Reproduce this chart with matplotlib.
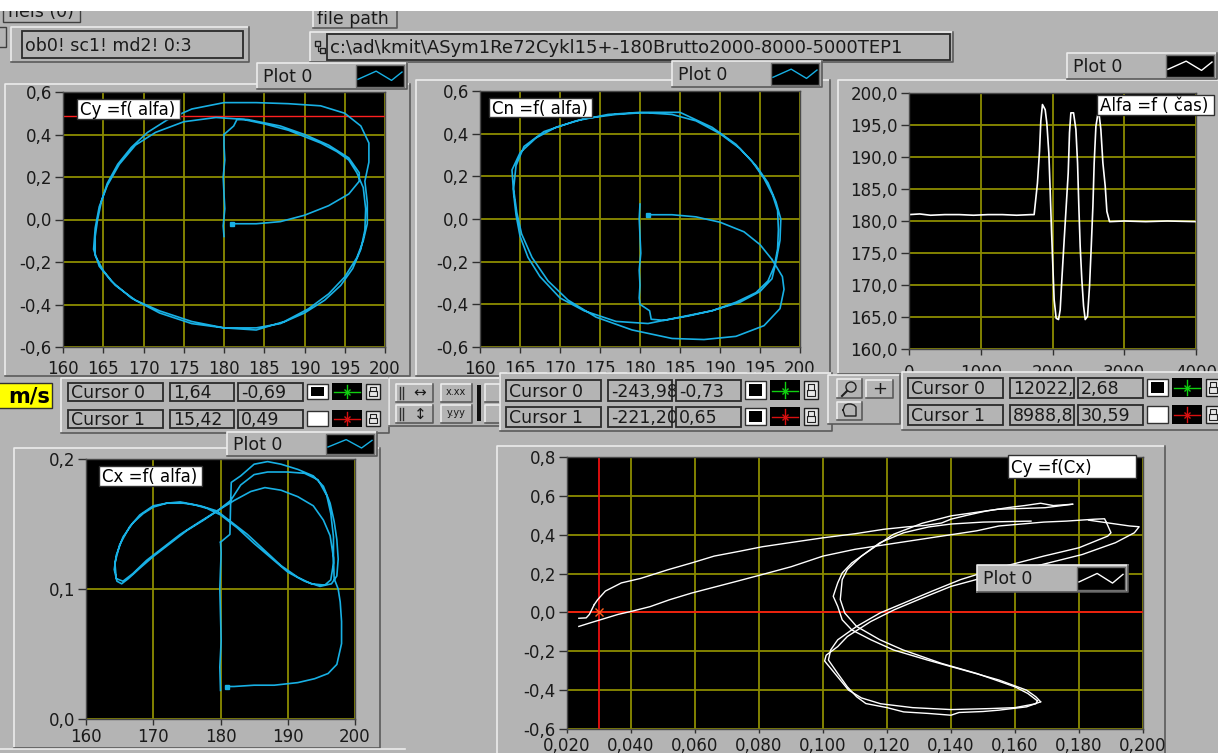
import matplotlib
matplotlib.use("Agg")
import matplotlib.pyplot as plt
from matplotlib.patches import Rectangle, Circle

# ---------------- values ----------------
alfa_ticks = [160, 165, 170, 175, 180, 185, 190, 195, 200]
coef_ticks = [-0.6, -0.4, -0.2, 0.0, 0.2, 0.4, 0.6]
time_ticks = [0, 1000, 2000, 3000, 4000]
alfa_deg_ticks = [160, 165, 170, 175, 180, 185, 190, 195, 200]
cx_alfa_xticks = [160, 170, 180, 190, 200]
cx_ticks = [0.0, 0.1, 0.2]
cx_axis_ticks = [0.02, 0.04, 0.06, 0.08, 0.10, 0.12, 0.14, 0.16, 0.18, 0.20]
cy_axis_ticks = [-0.6, -0.4, -0.2, 0.0, 0.2, 0.4, 0.6, 0.8]

# Cy = f(alfa)
cy_static_alfa = [180.0, 179.9, 180.1, 180.0, 179.9, 180.1, 180.0, 180.0]
cy_static_val = [-0.08, -0.03, 0.05, 0.12, 0.20, 0.28, 0.35, 0.40]
cy_loop_alfa = [180.0, 181.2, 181.6, 182.5, 185.0, 188.0, 190.0, 192.0, 194.0, 195.5,
                196.5, 197.3, 197.6, 197.5, 197.0, 196.0, 194.5, 192.5, 190.0, 187.0,
                184.0, 180.0, 176.0, 172.0, 169.0, 166.5, 165.0, 164.0, 164.0, 164.3,
                164.8, 165.5, 166.8, 168.5, 170.5, 173.0, 176.0, 180.0, 184.0, 188.0,
                192.0, 195.0, 197.0, 198.0, 198.0, 197.5, 197.8, 197.8, 197.3, 196.5,
                195.0, 193.0, 190.5, 187.5, 184.0, 180.0, 176.0, 172.0, 168.5, 166.0,
                164.5, 163.8, 164.0, 164.5, 165.5, 167.0, 169.0, 171.5, 175.0, 179.0,
                183.0, 187.0, 190.0, 193.0, 195.5, 196.8, 196.8]
cy_loop_val = [0.40, 0.44, 0.47, 0.47, 0.45, 0.42, 0.39, 0.36, 0.32, 0.28,
               0.22, 0.15, 0.05, -0.05, -0.14, -0.23, -0.31, -0.38, -0.44, -0.49,
               -0.51, -0.51, -0.48, -0.43, -0.38, -0.31, -0.24, -0.17, -0.08, 0.00,
               0.09, 0.17, 0.26, 0.34, 0.41, 0.47, 0.52, 0.55, 0.55, 0.545,
               0.535, 0.50, 0.44, 0.36, 0.27, 0.18, 0.08, -0.02, -0.10, -0.18,
               -0.27, -0.35, -0.42, -0.48, -0.52, -0.51, -0.49, -0.44, -0.37, -0.29,
               -0.22, -0.14, -0.04, 0.06, 0.16, 0.26, 0.35, 0.41, 0.46, 0.48,
               0.47, 0.44, 0.40, 0.35, 0.29, 0.22, 0.18]
cy_tail_alfa = [196.8, 195.5, 193.0, 190.0, 187.0, 184.0, 181.0]
cy_tail_val = [0.18, 0.12, 0.065, 0.02, -0.01, -0.02, -0.02]
cy_cursor_level = 0.485

# Cn = f(alfa)
cn_static_alfa = [180.0, 179.9, 180.0, 180.1, 179.9, 180.0, 179.9, 180.0]
cn_static_val = [0.07, 0.0, -0.08, -0.16, -0.24, -0.31, -0.37, -0.40]
cn_loop_alfa = [180.0, 181.2, 181.4, 183.0, 186.0, 189.0, 192.0, 194.5, 196.0, 196.8,
                197.2, 197.3, 197.2, 196.6, 195.5, 194.0, 192.0, 189.0, 185.0, 181.0,
                177.0, 173.0, 169.5, 167.0, 165.0, 164.0, 164.2, 164.5, 165.0, 166.0,
                167.5, 170.0, 173.0, 177.0, 181.0, 185.0, 189.0, 192.5, 195.0, 196.5,
                197.0, 197.5, 197.6, 197.0, 196.0, 194.5, 192.5, 190.0, 187.0, 184.0,
                180.0, 176.0, 172.0, 168.0, 165.5, 164.5, 164.2, 164.6, 165.2, 166.5,
                168.5, 171.0, 174.5, 179.0, 184.0, 188.0, 192.0, 195.5, 197.5, 198.0,
                197.8, 197.0, 196.5]
cn_loop_val = [-0.40, -0.43, -0.47, -0.475, -0.455, -0.43, -0.39, -0.345, -0.29, -0.22,
               -0.14, -0.05, 0.04, 0.11, 0.19, 0.27, 0.35, 0.43, 0.50, 0.50,
               0.49, 0.47, 0.43, 0.38, 0.31, 0.23, 0.12, 0.02, -0.08, -0.18,
               -0.27, -0.37, -0.43, -0.48, -0.49, -0.46, -0.43, -0.39, -0.34, -0.28,
               -0.20, -0.10, 0.00, 0.08, 0.17, 0.25, 0.33, 0.40, 0.46, 0.49,
               0.50, 0.49, 0.46, 0.41, 0.34, 0.25, 0.14, 0.03, -0.07, -0.18,
               -0.29, -0.38, -0.46, -0.52, -0.56, -0.565, -0.55, -0.50, -0.42, -0.33,
               -0.27, -0.22, -0.19]
cn_tail_alfa = [196.5, 195.0, 193.0, 190.0, 187.0, 184.0, 181.0]
cn_tail_val = [-0.19, -0.12, -0.06, -0.015, 0.01, 0.02, 0.02]

# Alfa = f(cas)
time_ms = [0, 150, 300, 500, 700, 900, 1100, 1300, 1500, 1700,
           1744, 1790, 1819, 1837, 1860, 1898, 1921, 1949, 1967, 1986,
           2005, 2023, 2051, 2084, 2107, 2130, 2163, 2191, 2219, 2237,
           2256, 2293, 2326, 2349, 2367, 2386, 2409, 2433, 2456, 2488,
           2516, 2540, 2563, 2581, 2605, 2642, 2674, 2702, 2735, 2758,
           2795, 3000, 3300, 3600, 4000]
alfa_deg = [181.0, 181.1, 180.9, 181.0, 181.0, 180.9, 181.0, 181.0, 180.9, 181.0,
            181.0, 185.9, 190.9, 195.6, 198.2, 197.4, 195.3, 190.6, 184.9, 178.6,
            172.9, 167.7, 164.8, 164.6, 166.1, 170.8, 177.1, 182.3, 187.5, 193.8,
            196.9, 196.9, 194.3, 189.1, 182.3, 176.0, 170.8, 166.7, 164.6, 165.1,
            169.8, 176.0, 182.3, 189.1, 194.8, 197.4, 194.3, 189.1, 185.4, 181.5,
            179.9, 180.0, 179.9, 180.0, 179.9]

# Cx = f(alfa)
cx_static_alfa = [180.0, 179.9, 180.1, 180.0, 179.9, 180.0, 180.1, 180.0]
cx_static_val = [0.022, 0.04, 0.06, 0.08, 0.10, 0.115, 0.128, 0.136]
cx_loop_alfa = [180.0, 181.4, 181.5, 181.6, 183.0, 185.0, 187.0, 189.0, 191.5, 193.8,
                195.3, 196.3, 196.9, 197.3, 197.5, 197.3, 196.5, 194.8, 192.5, 190.0,
                187.5, 185.0, 182.5, 180.0, 178.0, 176.0, 174.0, 172.0, 170.0, 168.5,
                167.0, 165.5, 164.5, 164.2, 164.6, 165.3, 166.3, 168.0, 170.0, 172.5,
                175.0, 177.5, 179.5, 181.5, 183.0, 185.0, 187.0, 190.0, 192.5, 194.5,
                195.8, 196.4, 196.8, 196.8, 196.4, 195.5, 193.5, 191.5, 189.0, 186.5,
                184.0, 181.5, 179.5, 177.0, 174.5, 172.0, 170.0, 168.0, 166.5, 165.0,
                164.3, 164.5, 165.5, 167.0, 169.0, 171.5, 174.0, 177.0, 179.5, 182.0,
                184.5, 186.6, 189.0, 191.5, 193.8, 195.3, 196.3, 196.8, 196.9, 197.5,
                197.8, 198.0, 198.0, 197.3, 196.0, 194.0, 191.5, 188.0, 185.0, 182.0,
                181.0]
cx_loop_val = [0.136, 0.142, 0.165, 0.182, 0.187, 0.196, 0.198, 0.196, 0.192, 0.187,
               0.179, 0.166, 0.152, 0.138, 0.123, 0.110, 0.104, 0.102, 0.106, 0.113,
               0.124, 0.135, 0.147, 0.157, 0.162, 0.165, 0.167, 0.166, 0.163, 0.158,
               0.151, 0.140, 0.126, 0.115, 0.106, 0.104, 0.108, 0.116, 0.125, 0.135,
               0.145, 0.153, 0.160, 0.168, 0.180, 0.188, 0.190, 0.190, 0.189, 0.184,
               0.172, 0.158, 0.140, 0.120, 0.107, 0.103, 0.104, 0.109, 0.118, 0.130,
               0.142, 0.152, 0.160, 0.164, 0.166, 0.166, 0.164, 0.157, 0.148, 0.134,
               0.120, 0.108, 0.106, 0.112, 0.122, 0.132, 0.142, 0.152, 0.160, 0.168,
               0.175, 0.178, 0.176, 0.171, 0.164, 0.153, 0.141, 0.124, 0.108, 0.100,
               0.090, 0.075, 0.058, 0.042, 0.035, 0.031, 0.028, 0.026, 0.026, 0.025,
               0.025]

# Cy = f(Cx)
u1_cx = [0.0285, 0.0296, 0.032, 0.037, 0.043, 0.0516, 0.059, 0.066, 0.074, 0.081,
         0.090, 0.100, 0.110, 0.119, 0.126, 0.132, 0.137, 0.140, 0.145, 0.151,
         0.158, 0.163, 0.168, 0.172, 0.178]
u1_cy = [0.04, 0.066, 0.11, 0.152, 0.175, 0.22, 0.255, 0.29, 0.315, 0.338,
         0.36, 0.384, 0.405, 0.428, 0.44, 0.448, 0.46, 0.48, 0.50, 0.522,
         0.54, 0.55, 0.562, 0.55, 0.557]
u2_cx = [0.0237, 0.027, 0.031, 0.036, 0.040, 0.046, 0.052, 0.059, 0.066, 0.073,
         0.081, 0.090, 0.100, 0.110, 0.120, 0.130, 0.140, 0.148, 0.155, 0.162,
         0.169, 0.176, 0.185, 0.188, 0.1885]
u2_cy = [-0.072, -0.055, -0.035, -0.01, 0.005, 0.03, 0.065, 0.10, 0.13, 0.16,
         0.195, 0.235, 0.29, 0.325, 0.35, 0.375, 0.40, 0.42, 0.445, 0.455,
         0.465, 0.47, 0.48, 0.482, 0.465]
z1_cx = [0.1885, 0.190, 0.189, 0.180, 0.169, 0.1547, 0.143, 0.134, 0.1252, 0.1178,
         0.1105, 0.1046, 0.1024, 0.1017, 0.1046, 0.1076, 0.1105, 0.1134, 0.120, 0.1252,
         0.133, 0.140, 0.1425, 0.150, 0.155, 0.1636, 0.168]
z1_cy = [0.465, 0.41, 0.393, 0.333, 0.29, 0.229, 0.169, 0.109, 0.048, -0.003,
         -0.072, -0.141, -0.193, -0.245, -0.314, -0.383, -0.434, -0.469, -0.49, -0.512,
         -0.52, -0.529, -0.515, -0.51, -0.503, -0.486, -0.46]
z2_cx = [0.183, 0.1958, 0.1988, 0.1973, 0.1914, 0.181, 0.1664, 0.1517, 0.140, 0.131,
         0.1223, 0.1149, 0.1076, 0.1046, 0.101, 0.1005, 0.103, 0.106, 0.108, 0.112,
         0.118, 0.128, 0.140, 0.152, 0.160, 0.1665, 0.167]
z2_cy = [0.475, 0.445, 0.441, 0.41, 0.359, 0.298, 0.238, 0.186, 0.134, 0.074,
         0.014, -0.047, -0.124, -0.176, -0.22, -0.25, -0.30, -0.36, -0.40, -0.44,
         -0.47, -0.49, -0.50, -0.495, -0.49, -0.47, -0.455]
s1_cx = [0.168, 0.1665, 0.1636, 0.155, 0.144, 0.1326, 0.122, 0.115, 0.109, 0.106,
         0.1046, 0.1032, 0.1046, 0.106, 0.109, 0.115, 0.122, 0.131, 0.140, 0.1547,
         0.1694, 0.178]
s1_cy = [-0.46, -0.434, -0.40, -0.348, -0.297, -0.245, -0.193, -0.141, -0.09, -0.038,
         0.031, 0.083, 0.152, 0.203, 0.255, 0.324, 0.402, 0.459, 0.497, 0.531,
         0.539, 0.557]
s2_cx = [0.167, 0.164, 0.160, 0.148, 0.137, 0.125, 0.1178, 0.1105, 0.1068, 0.1054,
         0.106, 0.1076, 0.112, 0.1178, 0.1252, 0.133, 0.140, 0.150, 0.165]
s2_cy = [-0.455, -0.417, -0.383, -0.314, -0.262, -0.193, -0.141, -0.072, -0.003, 0.066,
         0.169, 0.221, 0.29, 0.359, 0.41, 0.44, 0.455, 0.465, 0.47]
stub_cx = [0.0237, 0.026, 0.027, 0.0285]
stub_cy = [-0.03, -0.028, -0.01, 0.04]
cyx_cursor = (0.030, 0.0)

cursor_names = ["Cursor 0", "Cursor 1"]
left_cur_x = ["1,64", "15,42"]
left_cur_y = ["-0,69", "0,49"]
mid_cur_x = ["-243,98", "-221,20"]
mid_cur_y = ["-0,73", "0,65"]
right_cur_x = ["12022,", "8988,8"]
right_cur_y = ["2,68", "30,59"]
file_path = "c:\\ad\\kmit\\ASym1Re72Cykl15+-180Brutto2000-8000-5000TEP1"

# ---------------- styling ----------------
W, H = 1218, 753
BG = "#b4b4b4"
GRID = "#8c8c00"
CYAN = "#18b0e4"
INK = "#1a1a1a"

fig = plt.figure(figsize=(W / 100, H / 100), dpi=100)
fig.patch.set_facecolor(BG)


def px_axes(x0, y0, x1, y1, z=2):
    return fig.add_axes([x0 / W, 1 - y1 / H, (x1 - x0) / W, (y1 - y0) / H], zorder=z)


def overlay(z):
    a = px_axes(0, 0, W, H, z=z)
    a.set_xlim(0, W)
    a.set_ylim(H, 0)
    a.axis("off")
    return a


bg = overlay(0)
fg = overlay(10)
zc = [1]


def nz():
    zc[0] += 1
    return zc[0]


def rect(ax, x0, y0, x1, y1, fc="none", ec="none", lw=1.0):
    p = Rectangle((x0, y0), x1 - x0, y1 - y0, facecolor=fc, edgecolor=ec,
                  linewidth=lw, zorder=nz())
    ax.add_patch(p)
    return p


def bevel(ax, x0, y0, x1, y1, up=True, fc=BG):
    rect(ax, x0, y0, x1, y1, fc=fc)
    hi, lo = ("#ececec", "#5a5a5a") if up else ("#5a5a5a", "#ececec")
    ax.plot([x0, x0, x1], [y1, y0, y0], color=hi, lw=1.2, zorder=nz())
    ax.plot([x0, x1, x1], [y1, y1, y0], color=lo, lw=1.2, zorder=nz())


def field(ax, x0, y0, x1, y1, txt, size=12.5):
    p = rect(ax, x0, y0, x1, y1, fc=BG, ec="#2a2a2a", lw=1.3)
    t = ax.text(x0 + 3, (y0 + y1) / 2 + 1, txt, fontsize=size, color=INK,
                va="center", ha="left", zorder=nz())
    t.set_clip_path(p)


def label_box(ax, x0, y0, x1, y1, txt):
    rect(ax, x0, y0, x1, y1, fc="white", ec="#303030", lw=1)
    ax.text(x0 + 3, (y0 + y1) / 2 + 1, txt, fontsize=12, color="black",
            va="center", ha="left", zorder=nz())


def plot_legend(ax, x0, y0, x1, y1, col):
    bevel(ax, x0, y0, x1, y1)
    ax.text(x0 + 6, (y0 + y1) / 2 + 1, "Plot 0", fontsize=12.5, color=INK,
            va="center", ha="left", zorder=nz())
    ix0, ix1, iy0, iy1 = x1 - 51, x1 - 3, y0 + 2, y1 - 2
    rect(ax, ix0, iy0, ix1, iy1, fc="black", ec="#707070")
    w, h = ix1 - ix0, iy1 - iy0
    ax.plot([ix0 + 2, ix0 + 0.42 * w, ix0 + 0.74 * w, ix1 - 2],
            [iy1 - 0.35 * h, iy0 + 0.28 * h, iy1 - 0.3 * h, iy0 + 0.32 * h],
            color=col, lw=1, zorder=nz())


def cursor_panel(ax, box, nx, rows, xv, yv, filled):
    bevel(ax, *box)
    for i, (ya, yb) in enumerate(rows):
        field(ax, nx, ya, nx + 95, yb, cursor_names[i])
        field(ax, nx + 102, ya, nx + 166, yb, xv[i])
        field(ax, nx + 170, ya, nx + 235, yb, yv[i])
        rect(ax, nx + 239, ya + 1, nx + 260, yb - 2, fc="white", ec="#303030")
        if filled[i]:
            rect(ax, nx + 243, ya + 4, nx + 256, yb - 5, fc="black")
        c0 = nx + 264
        rect(ax, c0, ya, c0 + 30, yb - 1, fc="black")
        col = ["#10d010", "#d81010"][i]
        ym = (ya + yb) / 2
        ax.plot([c0 + 2, c0 + 28], [ym, ym], color=col, lw=1, zorder=nz())
        ax.plot([c0 + 15, c0 + 15], [ya + 2, yb - 3], color=col, lw=1, zorder=nz())
        ax.plot([c0 + 15], [ym], marker="x", color=col, ms=4, mew=1, zorder=nz())
        l0 = nx + 298
        rect(ax, l0, ya + 1, l0 + 14, yb - 2, fc="#e6e6e6", ec="#202020")
        rect(ax, l0 + 3, ym - 1, l0 + 11, yb - 5, fc="none", ec="#202020", lw=0.8)
        ax.plot([l0 + 4, l0 + 4, l0 + 10, l0 + 10], [ym - 1, ya + 4, ya + 4, ym - 1],
                color="#202020", lw=0.8, zorder=nz())


def comma(v, d):
    return f"{v:.{d}f}".replace(".", ",")


def style(ax, xlim, ylim, xt, yt, xd, yd, xpad=4, ypad=2, xlen=4.5):
    ax.set_facecolor("black")
    ax.set_xlim(*xlim)
    ax.set_ylim(*ylim)
    ax.set_xticks(xt)
    ax.set_xticklabels([comma(v, xd) if xd else str(v) for v in xt])
    ax.set_yticks(yt)
    ax.set_yticklabels([comma(v, yd) for v in yt])
    ax.grid(True, color=GRID, lw=1.3)
    ax.set_axisbelow(True)
    ax.tick_params(axis="x", direction="out", length=xlen, width=1, color="#303030",
                   labelsize=12, labelcolor=INK, pad=xpad)
    ax.tick_params(axis="y", direction="out", length=6, width=1, color="#303030",
                   labelsize=12, labelcolor=INK, pad=ypad)
    for s in ax.spines.values():
        s.set_color("#4a4a4a")
        s.set_linewidth(1)


# ---------------- background widgets ----------------
rect(bg, 3, 0, 80, 22, fc=BG, ec="#404040")
bg.text(8, 12, "nels (0)", fontsize=12.5, color=INK, va="center", zorder=nz())
rect(bg, -5, 27, 6, 47, fc=BG, ec="#404040")
bevel(bg, 11, 27, 249, 62)
field(bg, 22, 31, 243, 58, "ob0! sc1! md2! 0:3")
bevel(bg, 313, 9, 397, 28)
bg.text(317, 19, "file path", fontsize=12.5, color=INK, va="center", zorder=nz())
bevel(bg, 310, 32, 953, 62)
rect(bg, 315, 41, 320, 46, ec="#202020")
rect(bg, 320, 48, 325, 53, ec="#202020")
bg.plot([317.5, 317.5, 320], [46, 50.5, 50.5], color="#202020", lw=0.8, zorder=nz())
field(bg, 327, 34, 950, 60, file_path, size=13)

bevel(bg, 5, 84, 410, 376)
bevel(bg, 416, 80, 830, 376)
bevel(bg, 838, 80, 1225, 374)
bevel(bg, 14, 448, 380, 748)
bevel(bg, 497, 446, 1165, 760)
bg.plot([0, 405], [749, 749], color="#ececec", lw=1.2, zorder=nz())

plot_legend(bg, 257, 63, 407, 89, CYAN)
plot_legend(bg, 672, 61, 822, 87, CYAN)
plot_legend(bg, 1067, 53, 1217, 79, "white")

# ---------------- graphs ----------------
ax1 = px_axes(63, 92, 385, 347)
style(ax1, (160, 200), (-0.6, 0.6), alfa_ticks, coef_ticks, 0, 1, xpad=5)
ax1.axhline(cy_cursor_level, color="#ff2020", lw=1)
ax1.plot(cy_static_alfa, cy_static_val, color=CYAN, lw=1.2)
ax1.plot(cy_loop_alfa, cy_loop_val, color=CYAN, lw=1.2)
ax1.plot(cy_tail_alfa, cy_tail_val, color=CYAN, lw=1.2)
ax1.plot(cy_tail_alfa[-1:], cy_tail_val[-1:], "s", color=CYAN, ms=3)

ax2 = px_axes(480, 91, 800, 347)
style(ax2, (160, 200), (-0.6, 0.6), alfa_ticks, coef_ticks, 0, 1, xpad=5)
ax2.plot(cn_static_alfa, cn_static_val, color=CYAN, lw=1.2)
ax2.plot(cn_loop_alfa, cn_loop_val, color=CYAN, lw=1.2)
ax2.plot(cn_tail_alfa, cn_tail_val, color=CYAN, lw=1.2)
ax2.plot(cn_tail_alfa[-1:], cn_tail_val[-1:], "s", color=CYAN, ms=3)

ax3 = px_axes(909, 93, 1196, 349)
style(ax3, (0, 4000), (160, 200), time_ticks, alfa_deg_ticks, 0, 1, xpad=6)
ax3.plot(time_ms, alfa_deg, color="white", lw=1.2)

ax4 = px_axes(86, 459, 355, 719)
style(ax4, (160, 200), (0.0, 0.2), cx_alfa_xticks, cx_ticks, 0, 1, xpad=2)
ax4.plot(cx_static_alfa, cx_static_val, color=CYAN, lw=1.2)
ax4.plot(cx_loop_alfa, cx_loop_val, color=CYAN, lw=1.2)
ax4.plot(cx_loop_alfa[-1:], cx_loop_val[-1:], "s", color=CYAN, ms=3)

ax5 = px_axes(567, 457, 1143, 729)
style(ax5, (0.02, 0.2), (-0.6, 0.8), cx_axis_ticks, cy_axis_ticks, 3, 1, xpad=2.5, xlen=3)
ax5.axvline(cyx_cursor[0], color="#ff1010", lw=1.2)
ax5.axhline(cyx_cursor[1], color="#ff1010", lw=1.2)
for xs, ys in [(u1_cx, u1_cy), (u2_cx, u2_cy), (z1_cx, z1_cy), (z2_cx, z2_cy),
               (s1_cx, s1_cy), (s2_cx, s2_cy), (stub_cx, stub_cy)]:
    ax5.plot(xs, ys, color="white", lw=1.0)
ax5.plot([cyx_cursor[0]], [cyx_cursor[1]], marker="x", color="#ff6020", ms=6, mew=1)

# ---------------- overlay widgets ----------------
label_box(fg, 77, 99, 180, 119, "Cy =f( alfa)")
label_box(fg, 489, 98, 592, 117, "Cn =f( alfa)")
label_box(fg, 1097, 95, 1214, 115, "Alfa =f ( čas)")
label_box(fg, 99, 466, 202, 486, "Cx =f( alfa)")
label_box(fg, 1008, 455, 1136, 478, "Cy =f(Cx)")
plot_legend(fg, 977, 565, 1128, 592, "white")

rect(fg, -4, 383, 52, 408, fc="#ffff00", ec="#303030")
fg.text(50, 396, "m/s", fontsize=15, fontweight="bold", color="black",
        ha="right", va="center", zorder=nz())

cursor_panel(fg, (61, 378, 389, 433), 68, [(383, 401), (410, 428)],
             left_cur_x, left_cur_y, [True, False])

# graph palette between the cursor panels
bevel(fg, 389, 378, 500, 426)
for ya, yb, arrow in [(384, 402, "↔"), (405, 423, "↕")]:
    bevel(fg, 396, ya, 433, yb)
    fg.plot([400, 400], [ya + 3, yb - 3], color="#303030", lw=1, zorder=nz())
    fg.plot([403, 403], [ya + 3, yb - 3], color="#303030", lw=1, zorder=nz())
    fg.text(420, (ya + yb) / 2, arrow, fontsize=11, color=INK, ha="center",
            va="center", zorder=nz())
for ya, yb, s in [(384, 402, "x.xx"), (405, 423, "y.yy")]:
    bevel(fg, 441, ya, 472, yb)
    fg.text(456, (ya + yb) / 2 - 1, s, fontsize=7, color=INK, ha="center",
            va="center", zorder=nz())
rect(fg, 477, 385, 481, 421, fc="#101010")
bevel(fg, 485, 384, 505, 402)
bevel(fg, 485, 405, 505, 423)

cursor_panel(fg, (500, 373, 832, 431), 506, [(380, 401), (407, 427)],
             mid_cur_x, mid_cur_y, [True, True])
cursor_panel(fg, (902, 372, 1230, 430), 908, [(378, 398), (405, 425)],
             right_cur_x, right_cur_y, [True, False])

# zoom / pan palette
bevel(fg, 828, 375, 900, 424)
bevel(fg, 837, 379, 862, 398)
fg.add_patch(Circle((851, 387), 5, facecolor="none", edgecolor="#202020", lw=1, zorder=nz()))
fg.plot([847, 842], [391, 396], color="#202020", lw=1.5, zorder=nz())
bevel(fg, 866, 380, 893, 398)
fg.text(879.5, 389, "+", fontsize=13, color=INK, ha="center", va="center", zorder=nz())
bevel(fg, 837, 402, 862, 420)
fg.plot([843, 845, 848, 851, 854, 856, 856, 845, 843],
        [410, 405, 404, 404, 405, 407, 416, 416, 410], color="#202020", lw=1, zorder=nz())

plot_legend(fg, 227, 432, 377, 456, CYAN)

# white page margin at the top
rect(fg, -5, -5, W + 5, 11, fc="white")

fig.savefig("out.png", dpi=100, facecolor=fig.get_facecolor())
